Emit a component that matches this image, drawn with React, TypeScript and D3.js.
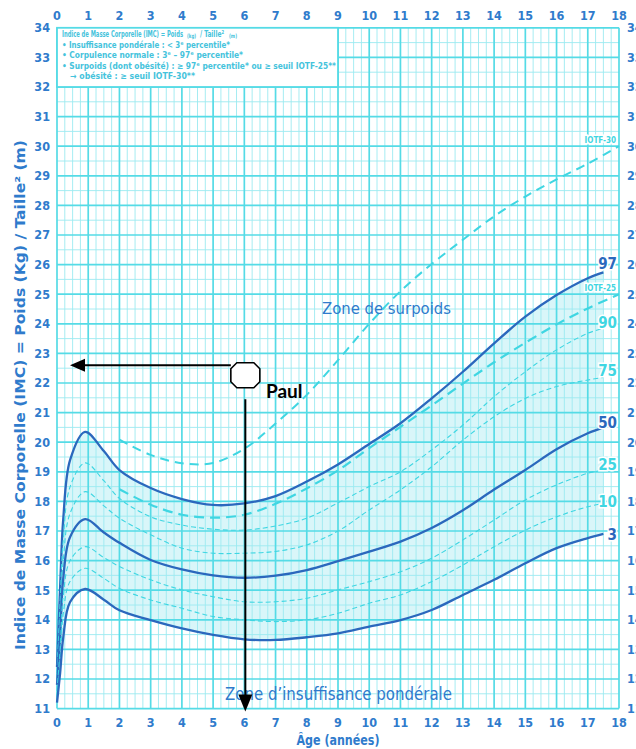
import React from "react";
import * as d3 from "d3";

// ---------- data ----------
const xTicks = d3.range(0, 19);
const yTicks = d3.range(11, 35);

const pctAges = [0, 0.1, 0.2, 0.42, 0.9, 1.5, 2, 3, 4, 5, 6, 7, 8, 9, 10, 11, 12, 13, 14, 15, 16, 17, 17.5];
const p97 = [12.4, 15.1, 17.4, 19.4, 20.35, 19.7, 19.06, 18.45, 18.08, 17.88, 17.93, 18.18, 18.67, 19.25, 19.94, 20.64, 21.48, 22.38, 23.34, 24.24, 24.97, 25.54, 25.74];
const p90 = [12.2, 14.6, 16.7, 18.5, 19.3, 18.7, 18.1, 17.48, 17.2, 17.06, 17.03, 17.17, 17.43, 17.95, 18.5, 19.0, 19.74, 20.58, 21.54, 22.38, 23.12, 23.68, 23.85];
const p75 = [12.0, 14.1, 16.0, 17.6, 18.33, 17.85, 17.43, 16.87, 16.42, 16.25, 16.25, 16.31, 16.53, 17.0, 17.71, 18.39, 19.17, 20.07, 20.86, 21.48, 21.88, 22.1, 22.19];
const p50 = [11.8, 13.4, 15.4, 16.8, 17.4, 16.95, 16.6, 16.02, 15.7, 15.5, 15.42, 15.49, 15.68, 15.98, 16.3, 16.64, 17.1, 17.7, 18.4, 19.06, 19.76, 20.3, 20.49];
const p25 = [11.6, 13.0, 14.8, 16.0, 16.47, 16.1, 15.8, 15.35, 15.01, 14.78, 14.61, 14.61, 14.73, 15.01, 15.29, 15.62, 16.08, 16.7, 17.37, 18.05, 18.56, 18.95, 19.06];
const p10 = [11.4, 12.6, 14.2, 15.3, 15.74, 15.4, 15.06, 14.67, 14.39, 14.11, 14.0, 13.94, 14.0, 14.22, 14.56, 14.84, 15.29, 15.85, 16.47, 17.03, 17.48, 17.82, 17.93];
const p3 = [11.2, 12.2, 13.4, 14.6, 15.04, 14.68, 14.32, 13.99, 13.71, 13.49, 13.34, 13.32, 13.41, 13.54, 13.77, 13.99, 14.33, 14.84, 15.35, 15.91, 16.42, 16.76, 16.9];

const iotfAges = [2, 3, 4, 5, 6, 7, 8, 9, 10, 11, 12, 13, 14, 15, 16, 17, 18];
const iotf25 = [18.41, 17.89, 17.55, 17.45, 17.55, 17.92, 18.44, 19.05, 19.8, 20.52, 21.24, 21.98, 22.7, 23.36, 23.98, 24.52, 25.0];
const iotf30 = [20.09, 19.57, 19.29, 19.3, 19.78, 20.63, 21.6, 22.77, 24.0, 25.1, 26.02, 26.84, 27.63, 28.3, 28.88, 29.41, 30.0];

const percentileLabels = ["97", "90", "75", "50", "25", "10", "3"];
const percentileSeries = [p97, p90, p75, p50, p25, p10, p3];
const percentileSolid = [true, false, false, true, false, false, true];

const paulAge = 6;
const paulBmi = 22.6;

// legend title pieces: [text, font size, start offset, width]
const legendTitle: [string, number, number, number][] = [
  ["Indice de Masse Corporelle (IMC) = Poids", 8.6, 0, 121],
  ["(kg)", 5.8, 125, 9],
  ["/ Taille²", 8.6, 138, 24],
  ["(m)", 5.8, 167, 8],
];
const legendLines = [
  "• Insuffisance pondérale : < 3ᵉ percentile*",
  "• Corpulence normale : 3ᵉ – 97ᵉ percentile*",
  "• Surpoids (dont obésité) : ≥ 97ᵉ percentile* ou ≥ seuil IOTF-25**",
  "   → obésité : ≥ seuil IOTF-30**",
];
const legendWidths = [168, 181, 274, 133];

// ---------- style ----------
const W = 636;
const H = 749;
const FONT = "'DejaVu Sans Condensed', 'Liberation Sans Narrow', 'Roboto', Arial, sans-serif";
const BLUE_TEXT = "#2f7bcc";
const DARK = "#2b68bd";
const CYAN = "#3fd6e2";
const GRID_MAJOR = "#55dbe6";
const GRID_MINOR = "#9ceaf0";
const FILL = "#d9f6f9";
const LEGEND_TEXT = "#45c3dc";

export default function App() {
  const x = d3.scaleLinear().domain([0, 18]).range([57, 619]);
  const y = d3.scaleLinear().domain([11, 34]).range([708.6, 27.8]);
  const curve = d3.curveCatmullRom.alpha(0.5);

  const line = (ages: number[]) =>
    d3
      .line<number>()
      .x((_, i) => x(ages[i]))
      .y((v) => y(v))
      .curve(curve);

  const area = d3
    .area<number>()
    .x((_, i) => x(pctAges[i]))
    .y0((_, i) => y(p3[i]))
    .y1((v) => y(v))
    .curve(curve);

  const minorX = d3.range(0, 18.001, 0.25).filter((v) => Math.abs(v - Math.round(v)) > 1e-6);
  const minorY = d3.range(11, 34.001, 0.5).filter((v) => Math.abs(v - Math.round(v)) > 1e-6);

  const [x0, x1] = x.range();
  const yTop = y(34);
  const yBot = y(11);

  // Paul marker geometry
  const px = x(paulAge);
  const py = y(paulBmi);
  const ocx = px + 1;
  const ocy = py + 10;
  const hw = 14.5, hh = 12.5, c = 6;
  const octagon = d3.path();
  octagon.moveTo(ocx - hw + c, ocy - hh);
  octagon.lineTo(ocx + hw - c, ocy - hh);
  octagon.lineTo(ocx + hw, ocy - hh + c);
  octagon.lineTo(ocx + hw, ocy + hh - c);
  octagon.lineTo(ocx + hw - c, ocy + hh);
  octagon.lineTo(ocx - hw + c, ocy + hh);
  octagon.lineTo(ocx - hw, ocy + hh - c);
  octagon.lineTo(ocx - hw, ocy - hh + c);
  octagon.closePath();

  const arrowTipX = x(0) + 13;
  const vTipY = yBot + 3;

  const labelPos: Record<string, number> = {};
  percentileLabels.forEach((lab, i) => {
    const s = percentileSeries[i];
    labelPos[lab] = y(s[s.length - 1]);
  });
  const offsets: Record<string, number> = { "97": -9, "90": -5, "75": -7, "50": -5, "25": -5, "10": -2, "3": 1 };

  const lx = x(0) + 5;

  return (
    <svg
      width={W}
      height={H}
      viewBox={`0 0 ${W} ${H}`}
      style={{ position: "absolute", left: 0, top: 0, background: "#fff" }}
      fontFamily={FONT}
    >
      <rect x={0} y={0} width={W} height={H} fill="#fff" />
      {/* shaded normal zone */}
      <path d={area(p97) || ""} fill={FILL} />

      {/* grid */}
      <g>
        {minorX.map((v) => (
          <line key={"mx" + v} x1={x(v)} x2={x(v)} y1={yTop} y2={yBot} stroke={GRID_MINOR} strokeWidth={0.9} />
        ))}
        {minorY.map((v) => (
          <line key={"my" + v} x1={x0} x2={x1} y1={y(v)} y2={y(v)} stroke={GRID_MINOR} strokeWidth={0.9} />
        ))}
        {xTicks.map((v) => (
          <line key={"Mx" + v} x1={x(v)} x2={x(v)} y1={yTop} y2={yBot} stroke={GRID_MAJOR} strokeWidth={1.7} />
        ))}
        {yTicks.map((v) => (
          <line key={"My" + v} x1={x0} x2={x1} y1={y(v)} y2={y(v)} stroke={GRID_MAJOR} strokeWidth={1.7} />
        ))}
      </g>

      {/* legend box */}
      <rect x={x(0)} y={yTop} width={x(9) - x(0)} height={y(32) - yTop} fill="#fff" stroke={GRID_MAJOR} strokeWidth={1.8} />
      <g fill={LEGEND_TEXT} fontWeight="bold">
        {legendTitle.map(([t, fs, off, w]) => (
          <text
            key={t}
            x={lx + off}
            y={yTop + (fs < 8 ? 10 : 9.6)}
            fontSize={fs}
            textLength={w}
            lengthAdjust="spacingAndGlyphs"
          >
            {t}
          </text>
        ))}
        {legendLines.map((t, i) => (
          <text
            key={t}
            x={lx}
            y={yTop + 20.2 + i * 10.3}
            fontSize={8.6}
            xmlSpace="preserve"
            textLength={legendWidths[i]}
            lengthAdjust="spacingAndGlyphs"
          >
            {t}
          </text>
        ))}
      </g>

      {/* IOTF curves */}
      <path d={line(iotfAges)(iotf30) || ""} fill="none" stroke={CYAN} strokeWidth={2} strokeDasharray="9,6" />
      <path d={line(iotfAges)(iotf25) || ""} fill="none" stroke={CYAN} strokeWidth={2.2} strokeDasharray="10,6" />

      {/* percentile curves */}
      {percentileSeries.map((s, i) =>
        percentileSolid[i] ? (
          <path key={i} d={line(pctAges)(s) || ""} fill="none" stroke={DARK} strokeWidth={2.3} />
        ) : (
          <path key={i} d={line(pctAges)(s) || ""} fill="none" stroke={CYAN} strokeWidth={1.1} strokeDasharray="5,3" />
        )
      )}

      {/* curve labels */}
      <g fontWeight="bold" textAnchor="end" stroke="#fff" strokeWidth={3} paintOrder="stroke">
        {percentileLabels.map((lab, i) => (
          <text
            key={lab}
            x={617}
            y={labelPos[lab] + offsets[lab]}
            dy="0.35em"
            fontSize={15}
            fill={percentileSolid[i] ? DARK : CYAN}
          >
            {lab}
          </text>
        ))}
        <text x={616} y={y(iotf25[iotf25.length - 1]) - 6} dy="0.35em" fontSize={8} fill={CYAN}>
          IOTF-25
        </text>
        <text x={616} y={y(iotf30[iotf30.length - 1]) - 6} dy="0.35em" fontSize={8} fill={CYAN}>
          IOTF-30
        </text>
      </g>

      {/* zone labels */}
      <text x={386.5} y={314} textAnchor="middle" fill={BLUE_TEXT} fontSize={16} textLength={129} lengthAdjust="spacingAndGlyphs">
        Zone de surpoids
      </text>
      <text x={338.5} y={700} textAnchor="middle" fill={BLUE_TEXT} fontSize={17} textLength={227} lengthAdjust="spacingAndGlyphs">
        Zone d’insuffisance pondérale
      </text>

      {/* axes labels */}
      <g fill={BLUE_TEXT} fontWeight="bold" fontSize={12.5} textAnchor="middle">
        {xTicks.map((v) => (
          <text key={"tx" + v} x={x(v)} y={20}>
            {v}
          </text>
        ))}
        {xTicks.map((v) => (
          <text key={"bx" + v} x={x(v)} y={727}>
            {v}
          </text>
        ))}
      </g>
      <g fill={BLUE_TEXT} fontWeight="bold" fontSize={12.5}>
        {yTicks.map((v) => (
          <text key={"ly" + v} x={50} y={y(v)} dy="0.35em" textAnchor="end">
            {v}
          </text>
        ))}
        {yTicks.map((v) => (
          <text key={"ry" + v} x={627} y={y(v)} dy="0.35em" textAnchor="start">
            {v}
          </text>
        ))}
      </g>
      <text x={338} y={745} textAnchor="middle" fill={BLUE_TEXT} fontWeight="bold" fontSize={14} textLength={83} lengthAdjust="spacingAndGlyphs">
        Âge (années)
      </text>
      <text
        transform={`translate(25,395) rotate(-90)`}
        textAnchor="middle"
        fill={BLUE_TEXT}
        fontWeight="bold"
        fontSize={14}
        textLength={510}
        lengthAdjust="spacingAndGlyphs"
      >
        Indice de Masse Corporelle (IMC) = Poids (Kg) / Taille² (m)
      </text>

      {/* Paul annotation */}
      <line x1={ocx - hw} x2={arrowTipX + 12} y1={py} y2={py} stroke="#000" strokeWidth={2} />
      <path
        d={`M${arrowTipX},${py} L${arrowTipX + 15},${py - 6.5} L${arrowTipX + 15},${py + 6.5} Z`}
        fill="#000"
      />
      <path d={octagon.toString()} fill="#fff" stroke="#000" strokeWidth={1.6} />
      <line x1={px + 1} x2={px + 1} y1={ocy + 24} y2={vTipY - 14} stroke="#000" strokeWidth={2} />
      <path d={`M${px + 1},${vTipY} L${px - 6},${vTipY - 17} L${px + 8},${vTipY - 17} Z`} fill="#000" />
      <text x={266} y={398} fontFamily="Lato, 'Open Sans', sans-serif" fontWeight="bold" fontSize={19} fill="#000">
        Paul
      </text>
    </svg>
  );
}
